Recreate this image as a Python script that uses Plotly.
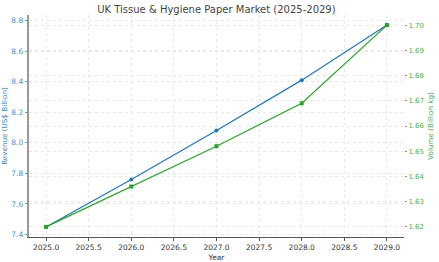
import plotly.graph_objects as go

years = [2025, 2026, 2027, 2028, 2029]
revenue = [7.45, 7.76, 8.08, 8.41, 8.77]
volume = [1.620, 1.636, 1.652, 1.669, 1.700]

blue = "#1f77b4"
green = "#2ca02c"
font = "DejaVu Sans"

fig = go.Figure()
fig.add_trace(go.Scatter(x=years, y=revenue, mode="lines+markers",
                         line=dict(color=blue, width=1.2),
                         marker=dict(symbol="circle", size=4, color=blue),
                         yaxis="y", showlegend=False))
fig.add_trace(go.Scatter(x=years, y=volume, mode="lines+markers",
                         line=dict(color=green, width=1.2),
                         marker=dict(symbol="square", size=4, color=green),
                         yaxis="y2", showlegend=False))

grid = dict(showgrid=True, gridcolor="#e8e8e8", griddash="dot", gridwidth=1)

fig.update_layout(
    width=439, height=262,
    margin=dict(l=29, r=35, t=15, b=25, autoexpand=False),
    paper_bgcolor="white", plot_bgcolor="white",
    font=dict(family=font, size=7.5, color="#333"),
    title=dict(text="UK Tissue &amp; Hygiene Paper Market (2025-2029)",
               x=0.493, xanchor="center", y=0.965, yanchor="middle",
               font=dict(size=10, color="#444")),
    xaxis=dict(range=[2024.8, 2029.2], tickvals=[2025, 2025.5, 2026, 2026.5, 2027, 2027.5, 2028, 2028.5, 2029],
               tickformat=".1f", ticks="outside", ticklen=3, tickcolor="#555",
               showline=True, linecolor="#555", linewidth=1.2, zeroline=False, automargin=False,
               title=dict(text="Year", font=dict(size=7.5, color="#333"), standoff=3),
               tickfont=dict(size=7.5, color="#333"), **grid),
    yaxis=dict(range=[7.384, 8.836], dtick=0.2, tick0=7.4, tickformat=".1f",
               ticks="outside", ticklen=2.5, tickcolor="#888", automargin=False,
               showline=True, linecolor="#999", linewidth=1.5, zeroline=False,
               title=dict(text="Revenue (US$ Billion)", font=dict(size=7.2, color="#3a8ac4"), standoff=5),
               tickfont=dict(size=7.5, color="#4a94cc"), **grid),
    yaxis2=dict(range=[1.616, 1.704], dtick=0.01, tick0=1.62, tickformat=".2f",
                overlaying="y", side="right", automargin=False,
                ticks="outside", ticklen=2, tickcolor="#888",
                showline=False, zeroline=False,
                title=dict(text="Volume (Billion kg)", font=dict(size=7.2, color="#4bb04b"), standoff=4),
                tickfont=dict(size=7, color="#4bb04b"), **grid),
)

fig.write_html("out.html")
